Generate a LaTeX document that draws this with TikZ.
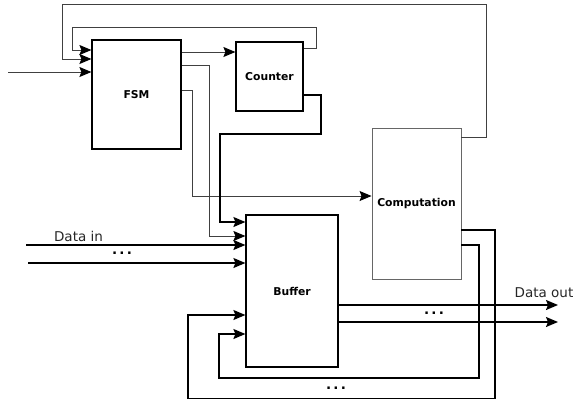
\documentclass[tikz,border=0pt]{standalone}
\usepackage{fontspec}
\setmainfont{DejaVu Sans}
\usetikzlibrary{arrows.meta}
\begin{document}
\begin{tikzpicture}[x=1pt,y=-1pt,
  blk/.style={draw, line width=1.2pt, inner sep=0pt, font=\bfseries\fontsize{10.8}{12}\selectfont},
  thn/.style={line width=0.9pt, black!75},
  thk/.style={line width=1.4pt},
  arr/.style={-{Stealth[length=12pt,width=10pt,inset=2pt,color=black]}},
  lbl/.style={font=\fontsize{13.5}{16}\selectfont, inner sep=0pt, text=black!85},
  dots/.style={font=\fontsize{13.5}{16}\selectfont, inner sep=0pt}]
\useasboundingbox (0,0) rectangle (574,400);
\node[blk, minimum width=89, minimum height=109] (fsm) at (136.5,94.5){FSM};
\node[blk, minimum width=67, minimum height=69] (counter) at (269.5,76.5){Counter};
\node[blk, draw=black!60, line width=0.9pt, minimum width=89, minimum height=151] (comp) at (416.5,203.5){Computation};
\node[blk, minimum width=92, minimum height=152] (buffer) at (292,291){Buffer};
\coordinate (ext) at (8,72);
\coordinate (din1) at (26,245);
\coordinate (din2) at (28,263);
\coordinate (dout1) at (558,305);
\coordinate (dout2) at (558,322);
\draw[thn, arr](comp.east |- 0,137) -| (486,4) -| (62,59) -- (fsm.west |- 0,59);
\draw[thn, arr](counter.east |- 0,48) -| (316,27) -| (72,50) -- (fsm.west |- 0,50);
\draw[thn, arr](ext) -- (fsm.west |- ext);
\draw[thn, arr](fsm.east |- 0,52) -- (counter.west |- 0,52);
\draw[thn, arr](fsm.east |- 0,65) -| (209,236) -- (buffer.west |- 0,236);
\draw[thn, arr](fsm.east |- 0,90) -| (192,196) -- (comp.west |- 0,196);
\draw[thk, arr](counter.east |- 0,95) -| (321,134) -| (220,222) -- (buffer.west |- 0,222);
\draw[thk, arr](din1) -- (buffer.west |- din1);
\draw[thk, arr](din2) -- (buffer.west |- din2);
\node[lbl] (dinlbl) at (78.5,236){Data in};
\node[dots] (dindots) at (122,253){\textbf{.}\,\textbf{.}\,\textbf{.}};
\draw[thk, arr](buffer.east |- dout1) -- (dout1);
\draw[thk, arr](buffer.east |- dout2) -- (dout2);
\node[lbl] (doutlbl) at (544,293){Data out};
\node[dots] (doutdots) at (434,313){\textbf{.}\,\textbf{.}\,\textbf{.}};
\draw[thk, arr](comp.east |- 0,230) -| (495,398.5) -| (188,315) -- (buffer.west |- 0,315);
\draw[thk, arr](comp.east |- 0,245) -| (479,378) -| (219,334) -- (buffer.west |- 0,334);
\node[dots] (loopdots) at (336,388){\textbf{.}\,\textbf{.}\,\textbf{.}};

\end{tikzpicture}
\end{document}
